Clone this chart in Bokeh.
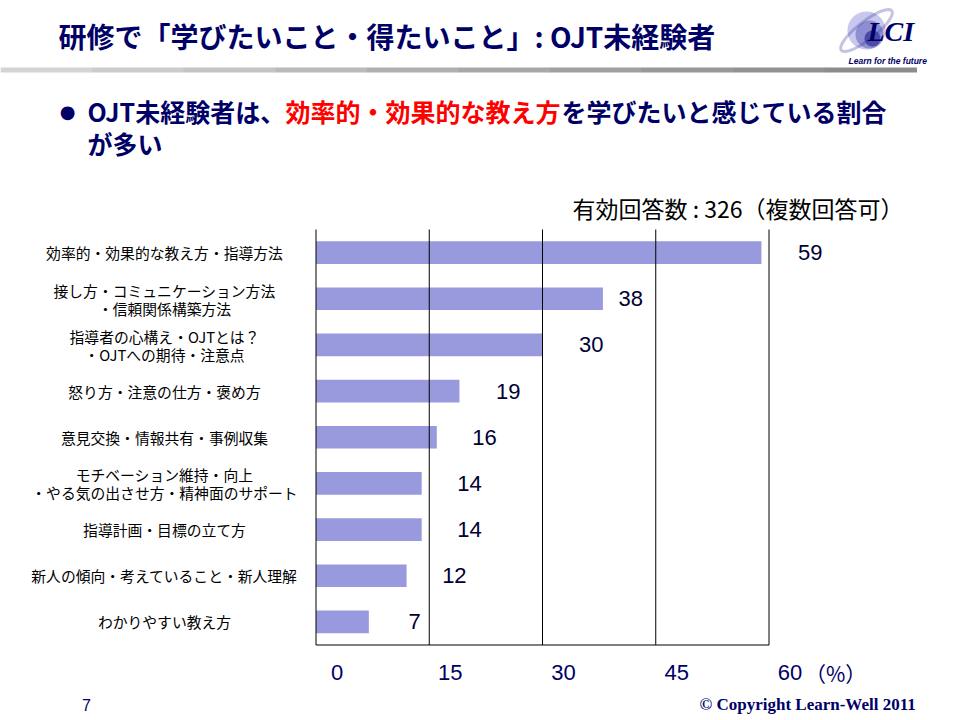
import numpy as np
from bokeh.plotting import figure
from bokeh.models import (ColumnDataSource, LabelSet, Label, Range1d,
                          BoxAnnotation, PolyAnnotation)
from bokeh.embed import file_html
from bokeh.resources import INLINE
from bokeh.core.properties import value

# ---------------- data ----------------
categories = [
    "効率的・効果的な教え方・指導方法",
    "接し方・コミュニケーション方法\n・信頼関係構築方法",
    "指導者の心構え・OJTとは？\n・OJTへの期待・注意点",
    "怒り方・注意の仕方・褒め方",
    "意見交換・情報共有・事例収集",
    "モチベーション維持・向上\n・やる気の出させ方・精神面のサポート",
    "指導計画・目標の立て方",
    "新人の傾向・考えていること・新人理解",
    "わかりやすい教え方",
]
percentages = [59, 38, 30, 19, 16, 14, 14, 12, 7]
x_ticks = [0, 15, 30, 45, 60]
x_tick_labels = ["0", "15", "30", "45", "60"]

title_text = "研修で「学びたいこと・得たいこと」: OJT未経験者"
sub_part1 = "OJT未経験者は、"
sub_part2 = "効率的・効果的な教え方"
sub_part3 = "を学びたいと感じている割合"
sub_line2 = "が多い"
note_text = "有効回答数 : 326（複数回答可）"
unit_text = "（%）"
page_no = "7"
copyright_text = "© Copyright Learn-Well 2011"

# ---------------- layout (pixels, styles) ----------------
W, H = 960, 720
CH_L, CH_T, CH_R, CH_B = 315.5, 229, 768.5, 644.5   # chart area on the canvas
NAVY = "#000066"
JP = "Noto Sans CJK JP"
LINE_PX = 18                      # line spacing of two-line category labels
value_label_gap = [61, 40, 61, 61, 60, 60, 60, 60, 52]   # px from bar end to label's right edge

n = len(categories)
ypos = [n - 1 - i for i in range(n)]          # first category on top
xmin, xmax = x_ticks[0], x_ticks[-1]
ybot, ytop = -0.5, n - 0.5

# ranges so that the chart area lands where it should while the frame is the whole canvas
kx = (CH_R - CH_L) / (xmax - xmin)
ky = (CH_B - CH_T) / (ytop - ybot)
x_range = Range1d(xmin - CH_L / kx, xmax + (W - CH_R) / kx)
y_range = Range1d(ybot - (H - CH_B) / ky, ytop + CH_T / ky)


def sx(X):  # canvas x -> screen units
    return X


def sy(Y):  # canvas y (top-down) -> screen units (measured upwards)
    return H - Y


p = figure(width=W, height=H, output_backend="svg", toolbar_location=None,
           x_range=x_range, y_range=y_range, title=None,
           x_axis_location=None, y_axis_location=None,
           min_border=0, min_border_left=0, min_border_right=0,
           min_border_top=0, min_border_bottom=0)
p.outline_line_color = None
p.background_fill_color = "white"
p.border_fill_color = "white"
p.xgrid.visible = False
p.ygrid.visible = False

src = ColumnDataSource(dict(cat=categories, y=ypos, val=percentages,
                            txt=[str(v) for v in percentages],
                            gap=value_label_gap))
p.hbar(y="y", right="val", left=0, height=0.49, source=src,
       fill_color="#9999DD", line_color=None)

# vertical grid lines (incl. the 0 and 60 borders) and the bottom axis line
p.segment(x0=x_ticks, x1=x_ticks, y0=[ybot] * len(x_ticks), y1=[ytop] * len(x_ticks),
          line_color="black", line_width=1)
p.segment(x0=[xmin], x1=[xmax], y0=[ybot], y1=[ybot], line_color="black", line_width=1)

# tick labels
tick_src = ColumnDataSource(dict(x=x_ticks, t=x_tick_labels))
p.add_layout(LabelSet(x="x", y=sy(672), y_units="screen", text="t", source=tick_src,
                      x_offset=21, text_align="center", text_baseline="middle",
                      text_font=value("Liberation Sans"), text_font_size="22px",
                      text_color=NAVY))
p.add_layout(Label(x=xmax, y=sy(672), y_units="screen", text=unit_text, x_offset=36,
                   text_align="left", text_baseline="middle", text_font=JP,
                   text_font_size="21px", text_color=NAVY))

# value labels
p.add_layout(LabelSet(x="val", y="y", text="txt", source=src, x_offset="gap",
                      text_align="right", text_baseline="middle",
                      text_font=value("Liberation Sans"), text_font_size="22px",
                      text_color="#000033"))

# category labels (each line centred on its own)
lab_y, lab_t = [], []
for yc, cat in zip(ypos, categories):
    lines = cat.split("\n")
    k = len(lines)
    for j, line in enumerate(lines):
        lab_y.append(yc + ((k - 1) / 2 - j) * LINE_PX / ky - (0.5 if k > 1 else 0) / ky)
        lab_t.append(line)
lab_src = ColumnDataSource(dict(y=lab_y, t=lab_t))
p.add_layout(LabelSet(x=sx(164), x_units="screen", y="y", text="t", source=lab_src,
                      text_align="center", text_baseline="middle",
                      text_font=value(JP), text_font_size="14.8px", text_color="black"))

# note
p.add_layout(Label(x=sx(903), y=sy(207), x_units="screen", y_units="screen",
                   text=note_text, text_align="right", text_baseline="middle",
                   text_font=JP, text_font_size="23px", text_color="black"))

# title
p.add_layout(Label(x=sx(58), y=sy(35), x_units="screen", y_units="screen",
                   text=title_text, text_align="left", text_baseline="middle",
                   text_font=JP, text_font_style="bold", text_font_size="28px",
                   text_color=NAVY))

# gradient rule under the title
grays = ["#d4d4d4", "#cccccc", "#c4c4c4", "#bababa", "#b0b0b0", "#a8a8a8",
         "#a0a0a0", "#989898", "#929292", "#8c8c8c"]
edges = np.linspace(0, 916, len(grays) + 1)
for i, c in enumerate(grays):
    p.add_layout(BoxAnnotation(left=sx(edges[i]), right=sx(edges[i + 1]) + 0.5,
                               top=sy(67), bottom=sy(72),
                               left_units="screen", right_units="screen",
                               top_units="screen", bottom_units="screen",
                               fill_color=c, fill_alpha=1, line_color=None))

# logo
t = np.linspace(0, 2 * np.pi, 60)
for (cx, cy, r, col) in [(866, 30, 19, "#c8c8ee"), (869, 34, 14, "#8e8ed2"),
                         (872, 38, 8, "#4a4aa8")]:
    p.add_layout(PolyAnnotation(xs=list(sx(cx + r * np.cos(t))), ys=list(sy(cy + r * np.sin(t))),
                                xs_units="screen", ys_units="screen",
                                fill_color=col, fill_alpha=1, line_color=None))
ang = np.deg2rad(-38)
ex = 32 * np.cos(t)
ey = 9 * np.sin(t)
rx = 866 + ex * np.cos(ang) - ey * np.sin(ang)
ry = 30 + ex * np.sin(ang) + ey * np.cos(ang)
p.add_layout(PolyAnnotation(xs=list(sx(rx)), ys=list(sy(ry)),
                            xs_units="screen", ys_units="screen",
                            fill_alpha=0, line_color="#3a3a9a", line_width=3))
p.add_layout(Label(x=sx(867), y=sy(31), x_units="screen", y_units="screen",
                   text="LCI", text_align="left", text_baseline="middle",
                   text_font="Liberation Serif", text_font_style="bold italic",
                   text_font_size="28px", text_color=NAVY))
p.add_layout(Label(x=sx(848), y=sy(60), x_units="screen", y_units="screen",
                   text="Learn for the future", text_align="left", text_baseline="middle",
                   text_font="Liberation Sans", text_font_style="bold italic",
                   text_font_size="8.5px", text_color=NAVY))

# subtitle
p.add_layout(Label(x=sx(67), y=sy(111), x_units="screen", y_units="screen",
                   text="●", text_align="center", text_baseline="middle",
                   text_font="DejaVu Sans", text_font_size="18px", text_color=NAVY))
for txt, x0, col in [(sub_part1, 87, NAVY), (sub_part2, 285, "#FF0000"),
                     (sub_part3, 561, NAVY)]:
    p.add_layout(Label(x=sx(x0), y=sy(110), x_units="screen", y_units="screen",
                       text=txt, text_align="left", text_baseline="middle",
                       text_font=JP, text_font_style="bold", text_font_size="25px",
                       text_color=col))
p.add_layout(Label(x=sx(87), y=sy(142), x_units="screen", y_units="screen",
                   text=sub_line2, text_align="left", text_baseline="middle",
                   text_font=JP, text_font_style="bold", text_font_size="25px",
                   text_color=NAVY))

# footer
p.add_layout(Label(x=sx(86), y=sy(704), x_units="screen", y_units="screen",
                   text=page_no, text_align="center", text_baseline="middle",
                   text_font="Liberation Sans", text_font_size="16px", text_color=NAVY))
p.add_layout(Label(x=sx(699), y=sy(704), x_units="screen", y_units="screen",
                   text=copyright_text, text_align="left", text_baseline="middle",
                   text_font="Liberation Serif", text_font_style="bold",
                   text_font_size="17px", text_color=NAVY))

open("out.html", "w").write(file_html(p, INLINE))
